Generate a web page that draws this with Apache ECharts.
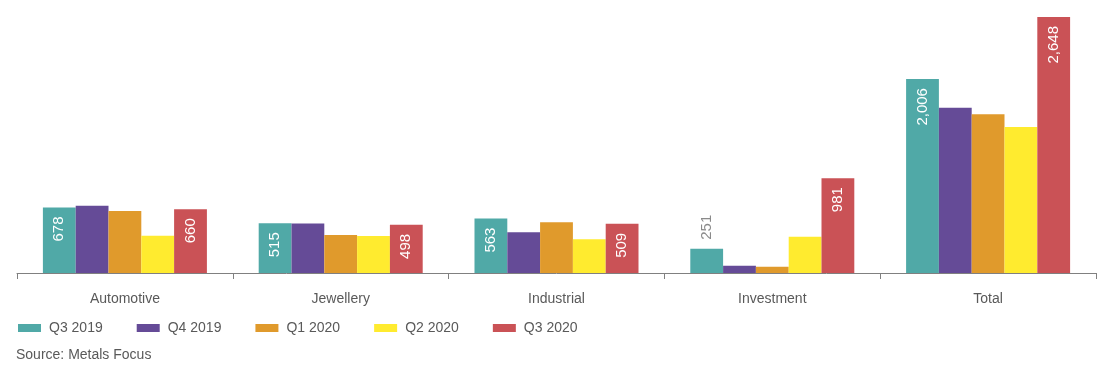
<!DOCTYPE html>
<html><head><meta charset="utf-8">
<script src="https://cdn.jsdelivr.net/npm/echarts@6/dist/echarts.min.js"></script>
<style>html,body{margin:0;padding:0;background:#fff}#c{width:1105px;height:376px}</style>
</head><body><div id="c"></div>
<script>
const categories = ['Automotive', 'Jewellery', 'Industrial', 'Investment', 'Total'];
const seriesNames = ['Q3 2019', 'Q4 2019', 'Q1 2020', 'Q2 2020', 'Q3 2020'];
const q3_2019 = [678, 515, 563, 251, 2006];
const q4_2019 = [696, 513, 421, 76, 1710];
const q1_2020 = [641, 393, 524, 65, 1641];
const q2_2020 = [386, 383, 348, 376, 1510];
const q3_2020 = [660, 498, 509, 981, 2648];
const colors = ['#50A9A7', '#654B97', '#E09A2C', '#FFEB2F', '#CA5256'];

const allData = [q3_2019, q4_2019, q1_2020, q2_2020, q3_2020];
const fmt = v => v.toLocaleString('en-US');
const labelled = [true, false, false, false, true];

const chart = echarts.init(document.getElementById('c'));
const series = allData.map((d, i) => ({
  name: seriesNames[i],
  type: 'bar',
  barGap: 0,
  barCategoryGap: '24%',
  itemStyle: { color: colors[i] },
  data: d.map((v, j) => {
    const item = { value: v };
    if (labelled[i]) {
      if (v < 300) {
        item.label = { show: true, position: 'top', rotate: 90, align: 'left', verticalAlign: 'middle', distance: 9, color: '#8a8a8a', fontSize: 15, fontFamily: 'Liberation Sans', formatter: p => fmt(p.value) };
      } else {
        item.label = { show: true, position: 'insideTop', rotate: 90, align: 'right', verticalAlign: 'middle', distance: 9, color: '#ffffff', fontSize: 15, fontFamily: 'Liberation Sans', formatter: p => fmt(p.value) };
      }
    }
    return item;
  })
}));

chart.setOption({
  animation: false,
  textStyle: { fontFamily: 'Liberation Sans' },
  grid: { left: 17, right: 9, top: 17, bottom: 103 },
  legend: {
    left: 13, top: 316,
    itemWidth: 23, itemHeight: 8, itemGap: 34,
    icon: 'rect',
    textStyle: { color: '#595959', fontSize: 14, fontFamily: 'Liberation Sans', padding: [0, 0, 0, 3] },
    data: seriesNames
  },
  graphic: [{
    type: 'text', left: 16, top: 348,
    style: { text: 'Source: Metals Focus', fill: '#595959', fontSize: 14, fontFamily: 'Liberation Sans' }
  }],
  xAxis: {
    type: 'category',
    data: categories,
    axisLine: { lineStyle: { color: '#808080', width: 1 } },
    axisTick: { show: true, length: 6, lineStyle: { color: '#808080' } },
    axisLabel: { color: '#595959', fontSize: 14, margin: 19, fontFamily: 'Liberation Sans' }
  },
  yAxis: {
    type: 'value', min: 0, max: 2648,
    show: false,
    splitLine: { show: false }
  },
  series
});
</script></body></html>
